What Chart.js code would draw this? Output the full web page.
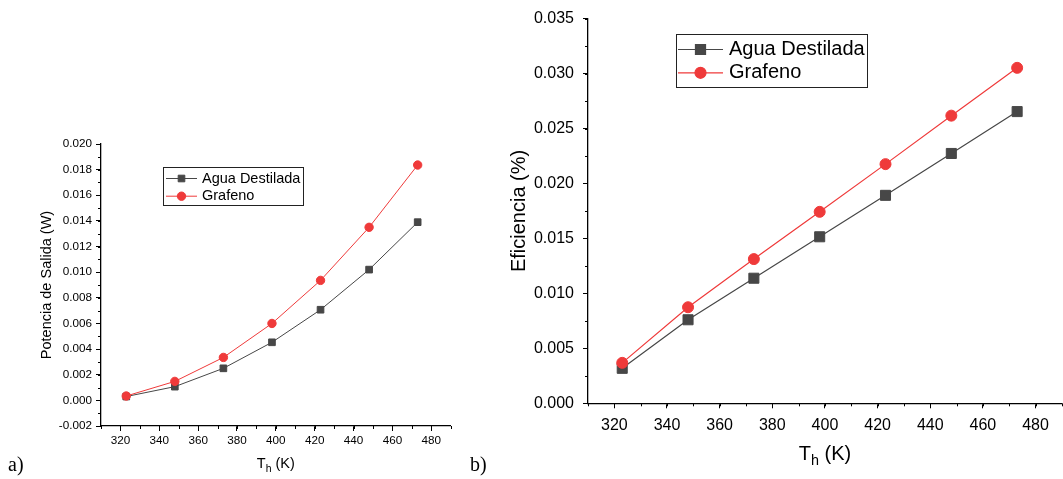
<!DOCTYPE html>
<html>
<head>
<meta charset="utf-8">
<script src="https://cdn.jsdelivr.net/npm/chart.js@4.4.1/dist/chart.umd.min.js"></script>
<style>
  html, body { margin: 0; padding: 0; background: #fff; }
  body { position: relative; width: 1063px; height: 479px; overflow: hidden; }
  canvas { position: absolute; top: 0; }
  #potencia { left: 0; }
  #eficiencia { left: 470px; }
  .panel { position: absolute; font-family: 'Times New Roman', 'Liberation Serif', serif; font-size: 20px; line-height: 24px; color: #000; }
</style>
</head>
<body>
<canvas id="potencia" width="470" height="479"></canvas>
<canvas id="eficiencia" width="600" height="479"></canvas>
<div class="panel" style="left:8px; top:452px;">a)</div>
<div class="panel" style="left:470px; top:452px;">b)</div>
<script>
// temperatura del foco caliente (K)
const temps = [323, 348, 373, 398, 423, 448, 473];

// a) potencia de salida (W)
const potenciaAgua = [0.0003, 0.00107, 0.0025, 0.00453, 0.00707, 0.0102, 0.0139];
const potenciaGrafeno = [0.00034, 0.00148, 0.00335, 0.0060, 0.00936, 0.0135, 0.01836];

// b) eficiencia (%)
const eficienciaAgua = [0.00318, 0.0076, 0.01138, 0.01515, 0.01892, 0.02273, 0.02654];
const eficienciaGrafeno = [0.00368, 0.00874, 0.01312, 0.01742, 0.02176, 0.02617, 0.03052];

const seriesNames = ['Agua Destilada', 'Grafeno'];

// tick labels
const xTicks = [320, 340, 360, 380, 400, 420, 440, 460, 480];
const potenciaTicks = [-0.002, 0, 0.002, 0.004, 0.006, 0.008, 0.010, 0.012, 0.014, 0.016, 0.018, 0.020];
const eficienciaTicks = [0, 0.005, 0.010, 0.015, 0.020, 0.025, 0.030, 0.035];

const FONT = "Arial, 'Liberation Sans', sans-serif";
const GRAY = '#474747';
const RED = '#ef3a3a';

Chart.defaults.font.family = FONT;
Chart.defaults.color = '#000';

/**
 * Short outward ticks at a fixed step on both axes
 */
const minorTicks = {
  id: 'minorTicks',
  afterDraw(chart, args, opts) {
    const ctx = chart.ctx;
    const area = chart.chartArea;
    ctx.save();
    ctx.strokeStyle = '#000';
    ctx.lineWidth = 1;
    for (const id of Object.keys(opts.steps || {})) {
      const scale = chart.scales[id];
      const step = opts.steps[id];
      const n0 = Math.ceil(scale.min / step - 1e-6);
      const n1 = Math.floor(scale.max / step + 1e-6);
      for (let n = n0; n <= n1; n++) {
        const p = Math.round(scale.getPixelForValue(n * step)) + 0.5;
        ctx.beginPath();
        if (scale.isHorizontal()) {
          ctx.moveTo(p, area.bottom);
          ctx.lineTo(p, area.bottom + opts.length);
        } else {
          ctx.moveTo(area.left, p);
          ctx.lineTo(area.left - opts.length, p);
        }
        ctx.stroke();
      }
    }
    ctx.restore();
  }
};

/**
 * X axis title with a subscript (T_h)
 */
const subTitle = {
  id: 'subTitle',
  afterDraw(chart, args, opts) {
    const ctx = chart.ctx;
    const area = chart.chartArea;
    const main = opts.size + 'px ' + FONT;
    const small = (opts.size * 0.72) + 'px ' + FONT;
    ctx.save();
    ctx.fillStyle = '#000';
    ctx.textBaseline = 'alphabetic';
    ctx.font = main;
    const wBase = ctx.measureText(opts.base).width;
    const wRest = ctx.measureText(opts.rest).width;
    ctx.font = small;
    const wSub = ctx.measureText(opts.sub).width;
    let x = (area.left + area.right) / 2 - (wBase + wSub + wRest) / 2;
    const y = opts.baseline;
    ctx.font = main;
    ctx.fillText(opts.base, x, y);
    x += wBase;
    ctx.font = small;
    ctx.fillText(opts.sub, x, y + opts.size * 0.27);
    x += wSub;
    ctx.font = main;
    ctx.fillText(opts.rest, x, y);
    ctx.restore();
  }
};

/**
 * Boxed legend inside the plot (Origin style)
 */
const boxLegend = {
  id: 'boxLegend',
  afterDraw(chart, args, opts) {
    const ctx = chart.ctx;
    ctx.save();
    ctx.strokeStyle = '#222';
    ctx.lineWidth = 1;
    ctx.strokeRect(opts.left + 0.5, opts.top + 0.5, opts.width, opts.height);
    ctx.font = opts.size + 'px ' + FONT;
    ctx.textBaseline = 'middle';
    chart.data.datasets.forEach((ds, i) => {
      const y = opts.firstRow + i * opts.rowGap;
      ctx.strokeStyle = ds.borderColor;
      ctx.lineWidth = ds.borderWidth;
      ctx.beginPath();
      ctx.moveTo(opts.sampleFrom, y);
      ctx.lineTo(opts.sampleTo, y);
      ctx.stroke();
      ctx.fillStyle = ds.pointBackgroundColor;
      ctx.strokeStyle = ds.pointBorderColor;
      Chart.helpers.drawPoint(ctx, { pointStyle: ds.pointStyle, radius: ds.pointRadius, borderWidth: 1, rotation: 0 },
        (opts.sampleFrom + opts.sampleTo) / 2, y);
      ctx.fillStyle = '#000';
      ctx.fillText(ds.label, opts.textX, y);
    });
    ctx.restore();
  }
};

function toPoints(values) {
  return temps.map((t, i) => ({ x: t, y: values[i] }));
}

/**
 * Build one Origin-like panel
 */
function createPanel(canvasId, p) {
  const ctx = document.getElementById(canvasId).getContext('2d');
  return new Chart(ctx, {
    type: 'line',
    data: {
      datasets: [
        {
          label: seriesNames[0],
          data: toPoints(p.agua),
          borderColor: GRAY,
          borderWidth: p.lineWidth,
          pointStyle: 'rect',
          pointRadius: p.squareRadius,
          pointBackgroundColor: GRAY,
          pointBorderColor: GRAY,
          pointBorderWidth: 1,
          order: 2
        },
        {
          label: seriesNames[1],
          data: toPoints(p.grafeno),
          borderColor: RED,
          borderWidth: p.lineWidth,
          pointStyle: 'circle',
          pointRadius: p.circleRadius,
          pointBackgroundColor: RED,
          pointBorderColor: RED,
          pointBorderWidth: 1,
          order: 1
        }
      ]
    },
    options: {
      responsive: false,
      devicePixelRatio: 1,
      animation: false,
      layout: { padding: p.padding },
      scales: {
        x: {
          type: 'linear',
          min: 310,
          max: 490,
          afterBuildTicks: s => { s.ticks = xTicks.map(v => ({ value: v })); },
          afterFit: s => { s.height = p.xHeight; },
          ticks: { font: { size: p.tickSize }, padding: p.xPad, maxRotation: 0, callback: v => String(v) },
          grid: { drawOnChartArea: false, drawTicks: true, tickLength: 5, tickColor: '#000', tickWidth: 1 },
          border: { display: true, color: '#000', width: 1.3 }
        },
        y: {
          type: 'linear',
          min: p.yTicks[0],
          max: p.yTicks[p.yTicks.length - 1],
          afterBuildTicks: s => { s.ticks = p.yTicks.map(v => ({ value: v })); },
          afterFit: s => { s.width = p.yWidth; },
          ticks: { font: { size: p.tickSize }, padding: p.yPad, callback: v => v.toFixed(3) },
          grid: { drawOnChartArea: false, drawTicks: true, tickLength: 5, tickColor: '#000', tickWidth: 1 },
          border: { display: true, color: '#000', width: 1.3 },
          title: { display: true, text: p.yTitle, font: { size: p.titleSize }, padding: 0 }
        }
      },
      plugins: {
        legend: { display: false },
        tooltip: { enabled: false },
        minorTicks: { steps: { x: 10, y: p.yMinor }, length: 3 },
        subTitle: { base: 'T', sub: 'h', rest: ' (K)', size: p.titleSize, baseline: p.xTitleBaseline },
        boxLegend: p.legend
      }
    },
    plugins: [minorTicks, subTitle, boxLegend]
  });
}

// a) potencia de salida
createPanel('potencia', {
  agua: potenciaAgua,
  grafeno: potenciaGrafeno,
  yTicks: potenciaTicks,
  yMinor: 0.001,
  yTitle: 'Potencia de Salida (W)',
  padding: { left: 38.3, top: 144, right: 19.3, bottom: 0 },
  xHeight: 53,
  yWidth: 62.7,
  tickSize: 11.7,
  titleSize: 14.5,
  xPad: 3,
  yPad: 4,
  xTitleBaseline: 468,
  lineWidth: 1,
  squareRadius: 4.7,
  circleRadius: 4.2,
  legend: { left: 163, top: 167, width: 140, height: 38, size: 14.5, firstRow: 178.5, rowGap: 17.7,
            sampleFrom: 166, sampleTo: 197, textX: 202 }
});

// b) eficiencia
createPanel('eficiencia', {
  agua: eficienciaAgua,
  grafeno: eficienciaGrafeno,
  yTicks: eficienciaTicks,
  yMinor: 0.0025,
  yTitle: 'Eficiencia (%)',
  padding: { left: 37, top: 18.3, right: 5, bottom: 0 },
  xHeight: 75.7,
  yWidth: 81,
  tickSize: 16,
  titleSize: 20,
  xPad: 8,
  yPad: 9,
  xTitleBaseline: 460,
  lineWidth: 1.2,
  squareRadius: 7.1,
  circleRadius: 5.5,
  legend: { left: 206, top: 34, width: 191, height: 53, size: 20, firstRow: 49.5, rowGap: 23.3,
            sampleFrom: 208, sampleTo: 253, textX: 259 }
});
</script>
</body>
</html>
